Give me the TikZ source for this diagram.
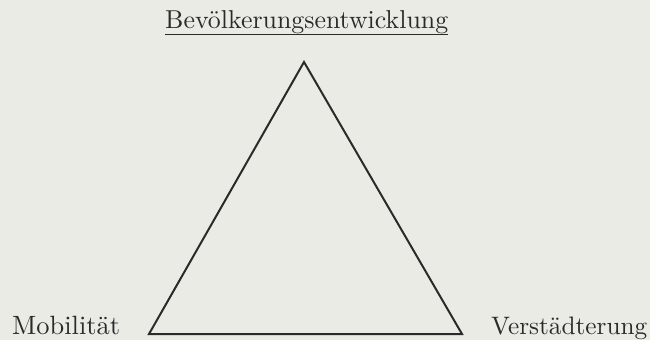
\documentclass[tikz,border=0pt]{standalone}
\usepackage{graphicx}
\definecolor{paper}{HTML}{EBEBE6}
\definecolor{ink}{HTML}{2A2A2A}
\tikzset{
  lbl/.style={inner sep=0pt, text=ink, font=\rmfamily},
  edge/.style={draw=ink, line width=2pt, line join=miter},
}
\begin{document}
\begin{tikzpicture}[x=1pt,y=-1pt]
\fill[paper] (0,0) rectangle (650,340);
\useasboundingbox (0,0) rectangle (650,340);
\coordinate (A) at (304,62);
\coordinate (B) at (149,334);
\coordinate (C) at (462,334);
\draw[edge] (A) -- (B) -- (C) -- cycle;
\node[lbl, anchor=base west] (top) at (165,28) {\resizebox{283pt}{!}{Bevölkerungsentwicklung}};
\draw[ink, line width=1pt] ([yshift=-6pt]top.base west) -- ([yshift=-6pt]top.base east);
\node[lbl, anchor=base west] (mob) at (12,334) {\resizebox{108pt}{!}{Mobilität}};
\node[lbl, anchor=base west] (ver) at (491,334) {\resizebox{156pt}{!}{Verstädterung}};
\end{tikzpicture}
\end{document}
